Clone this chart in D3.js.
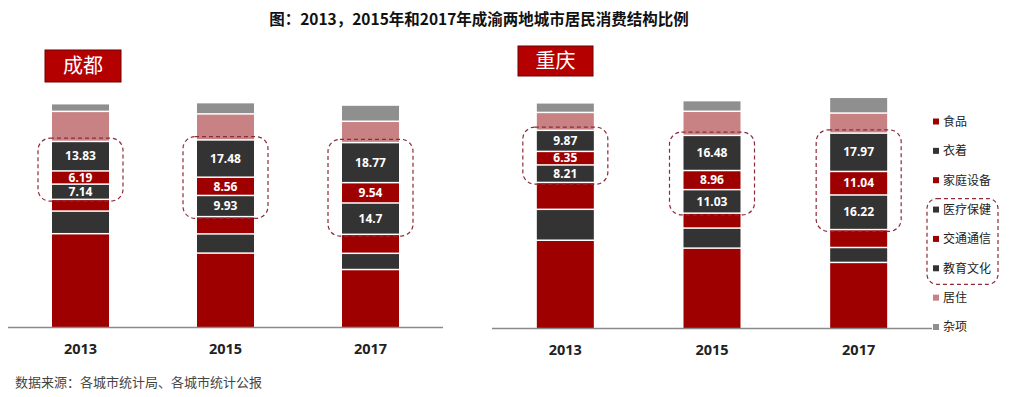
<!DOCTYPE html>
<html>
<head>
<meta charset="utf-8">
<script src="https://cdn.jsdelivr.net/npm/d3@7"></script>
<style>
  html, body { margin: 0; padding: 0; background: #fff; }
  svg { display: block; font-family: "Noto Sans CJK SC", "Noto Sans", sans-serif; }
</style>
</head>
<body>
<div id="chart"></div>
<script>
// categories, bottom to top of each stacked bar
const categories = ['食品', '衣着', '家庭设备', '医疗保健', '交通通信', '教育文化', '居住', '杂项'];
const years = ['2013', '2015', '2017'];
const labelled = ['医疗保健', '交通通信', '教育文化'];

// shares (%) per year, in category order
const chengdu2013 = [44.1, 10.6, 5.5, 7.14, 6.19, 13.83, 14.1, 3.6];
const chengdu2015 = [35.0, 9.0, 8.1, 9.93, 8.56, 17.48, 12.2, 5.3];
const chengdu2017 = [27.3, 7.6, 8.9, 14.7, 9.54, 18.77, 10.0, 7.6];
const chongqing2013 = [41.5, 14.5, 12.6, 8.21, 6.35, 9.87, 8.4, 4.5];
const chongqing2015 = [37.8, 9.4, 7.0, 11.03, 8.96, 16.48, 11.3, 5.0];
const chongqing2017 = [31.1, 7.0, 8.4, 16.22, 11.04, 17.97, 9.4, 7.4];

const colors = ['#9e0000', '#333333', '#9e0000', '#333333', '#9e0000', '#333333', '#c98284', '#8f8f8f'];
const boxStroke = '#8c2a38';

const W = 1014, H = 397;
const svg = d3.select('#chart').append('svg')
    .attr('width', W)
    .attr('height', H);

svg.append('text')
    .attr('x', 479)
    .attr('y', 25)
    .attr('text-anchor', 'middle')
    .style('font-size', '15.5px')
    .style('font-weight', 'bold')
    .style('fill', '#111')
    .text('图：2013，2015年和2017年成渝两地城市居民消费结构比例');

function drawCity(opts) {
    const rows = years.map((y, i) => {
        const r = { year: y };
        categories.forEach((c, j) => r[c] = opts.values[i][j]);
        return r;
    });
    const series = d3.stack().keys(categories)(rows);

    const x = d3.scalePoint()
        .domain(years)
        .range([opts.x0, opts.x1])
        .padding(0.5);
    const y = d3.scaleLinear()
        .domain([0, 105.5])
        .range([opts.base, opts.base - 225]);
    const bw = 57;

    const g = svg.append('g');

    g.selectAll('g.layer')
        .data(series)
        .join('g')
        .attr('class', 'layer')
        .attr('fill', (d, i) => colors[i])
        .selectAll('rect')
        .data(d => d)
        .join('rect')
        .attr('x', d => x(d.data.year) - bw / 2)
        .attr('y', d => y(d[1]) + 1.5)
        .attr('width', bw)
        .attr('height', d => Math.max(0, y(d[0]) - y(d[1]) - 1.5));

    // axis line
    g.append('line')
        .attr('x1', opts.x0).attr('x2', opts.lineEnd)
        .attr('y1', opts.base + 0.5).attr('y2', opts.base + 0.5)
        .attr('stroke', '#8a8a8a')
        .attr('stroke-width', 1.5);

    // year labels
    g.selectAll('text.year')
        .data(years)
        .join('text')
        .attr('class', 'year')
        .attr('x', d => x(d))
        .attr('y', opts.base + 27)
        .attr('text-anchor', 'middle')
        .style('font-family', '"Open Sans", "Noto Sans", sans-serif')
        .style('font-size', '14.5px')
        .style('font-weight', 'bold')
        .style('fill', '#222')
        .text(d => d);

    // value labels
    series.filter(s => labelled.includes(s.key)).forEach(s => {
        g.selectAll(null)
            .data(s)
            .join('text')
            .attr('x', d => x(d.data.year))
            .attr('y', d => (y(d[0]) + y(d[1]) + 1.5) / 2)
            .attr('dy', '0.35em')
            .attr('text-anchor', 'middle')
            .style('font-family', '"Noto Sans", sans-serif')
            .style('font-size', '12px')
            .style('font-weight', 'bold')
            .style('fill', '#fff')
            .text(d => d.data[s.key]);
    });

    // dashed highlight boxes
    const lo = series.find(s => s.key === labelled[0]);
    const hi = series.find(s => s.key === labelled[labelled.length - 1]);
    g.selectAll('rect.hl')
        .data(years)
        .join('rect')
        .attr('class', 'hl')
        .attr('x', (d, i) => x(d) - bw / 2 - 14)
        .attr('y', (d, i) => y(hi[i][1]) - 2.5)
        .attr('width', bw + 28)
        .attr('height', (d, i) => y(lo[i][0]) - y(hi[i][1]) + 5)
        .attr('rx', 12)
        .attr('fill', 'none')
        .attr('stroke', boxStroke)
        .attr('stroke-width', 1.2)
        .attr('stroke-dasharray', '4,3');

    // city tag
    g.append('rect')
        .attr('x', opts.tag[0]).attr('y', opts.tag[1])
        .attr('width', opts.tag[2]).attr('height', opts.tag[3])
        .attr('fill', '#b50000')
        .attr('stroke', '#6e0000')
        .attr('stroke-width', 1);
    g.append('text')
        .attr('x', opts.tag[0] + opts.tag[2] / 2)
        .attr('y', opts.tag[1] + opts.tag[3] / 2)
        .attr('dy', '0.36em')
        .attr('text-anchor', 'middle')
        .style('font-size', '20px')
        .style('fill', '#fff')
        .text(opts.name);
}

drawCity({
    name: '成都',
    values: [chengdu2013, chengdu2015, chengdu2017],
    x0: 8, x1: 443, lineEnd: 443, base: 327,
    tag: [45, 50, 76, 32]
});
drawCity({
    name: '重庆',
    values: [chongqing2013, chongqing2015, chongqing2017],
    x0: 492, x1: 932, lineEnd: 932, base: 328,
    tag: [518, 46, 75, 30]
});

// legend
const legendY = d3.scalePoint()
    .domain(categories)
    .range([121.5, 327]);
const legend = svg.append('g');
const items = legend.selectAll('g')
    .data(categories)
    .join('g')
    .attr('transform', d => `translate(933,${legendY(d)})`);
items.append('rect')
    .attr('x', 0).attr('y', -3)
    .attr('width', 6).attr('height', 6)
    .attr('fill', (d, i) => colors[i]);
items.append('text')
    .attr('x', 10)
    .attr('dy', '0.36em')
    .style('font-size', '12px')
    .style('fill', '#222')
    .text(d => d);
legend.append('rect')
    .attr('x', 927)
    .attr('y', legendY(labelled[0]) - 11)
    .attr('width', 71)
    .attr('height', legendY(labelled[2]) - legendY(labelled[0]) + 27)
    .attr('rx', 10)
    .attr('fill', 'none')
    .attr('stroke', boxStroke)
    .attr('stroke-width', 1.2)
    .attr('stroke-dasharray', '4,3');

svg.append('text')
    .attr('x', 15)
    .attr('y', 387)
    .style('font-size', '13px')
    .style('fill', '#444')
    .text('数据来源：各城市统计局、各城市统计公报');
</script>
</body>
</html>
